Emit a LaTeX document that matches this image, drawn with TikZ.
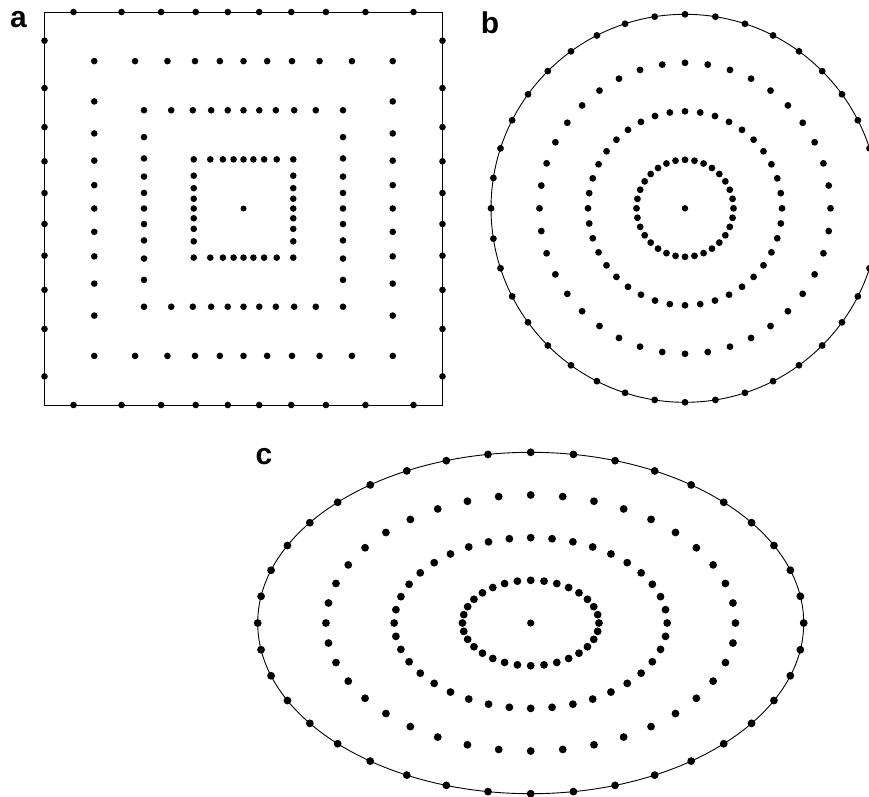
\documentclass[tikz,border=0pt]{standalone}
\usepackage{fontspec}
\setmainfont{Liberation Sans}

\begin{document}
\begin{tikzpicture}[x=1pt, y=-1pt,
		bead/.style={fill=black},
		frame/.style={line width=0.9pt},
		lbl/.style={font=\fontsize{30}{30}\selectfont\bfseries, anchor=base, inner sep=0pt}]
				\clip (0,0) rectangle (869,796);
				% Labels:
				\node[lbl] (la) at (18.5, 27.7) {a};
				\node[lbl] (lb) at (490, 33.3) {b};
				\node[lbl] (lc) at (264, 464.3) {c};
				% a: square rings
				\draw[frame] (44.5, 12) rectangle (442.5, 405);
				\fill[bead] (243.5, 208.5) circle[radius=3pt];
				\foreach \f/\n/\o in {1/40/4.5, 0.75/40/0, 0.5/40/0, 0.25/32/0} {
					\pgfmathsetmacro\st{360/\n}
					\foreach \k in {1,...,\n} {
						\pgfmathsetmacro\a{\o+\k*\st}
						\pgfmathsetmacro\s{\f/max(abs(cos(\a)),abs(sin(\a)))}
						\fill[bead] ({243.5+199*\s*cos(\a)}, {208.5+196.5*\s*sin(\a)}) circle[radius=3.3pt];
					}
				}
				% b: circle rings
				\draw[frame] (685, 208.3) circle[radius=194pt];
				\fill[bead] (685, 208.3) circle[radius=3.2pt];
				\foreach \f/\n in {1/40, 0.75/40, 0.5/40, 0.25/32} {
					\pgfmathsetmacro\st{360/\n}
					\foreach \k in {1,...,\n}
						\fill[bead] ({685+194*\f*cos(\k*\st)}, {208.3+194*\f*sin(\k*\st)}) circle[radius=3.4pt];
				}
				% c: ellipse rings
				\draw[frame] (530.7, 623) ellipse[x radius=273pt, y radius=170.7pt];
				\fill[bead] (530.7, 623) circle[radius=3.6pt];
				\foreach \f/\n in {1/40, 0.75/40, 0.5/40, 0.25/32} {
					\pgfmathsetmacro\st{360/\n}
					\foreach \k in {1,...,\n}
						\fill[bead] ({530.7+273*\f*cos(\k*\st)}, {623+170.7*\f*sin(\k*\st)}) circle[radius=3.9pt];
				}
			\end{tikzpicture}
\end{document}
